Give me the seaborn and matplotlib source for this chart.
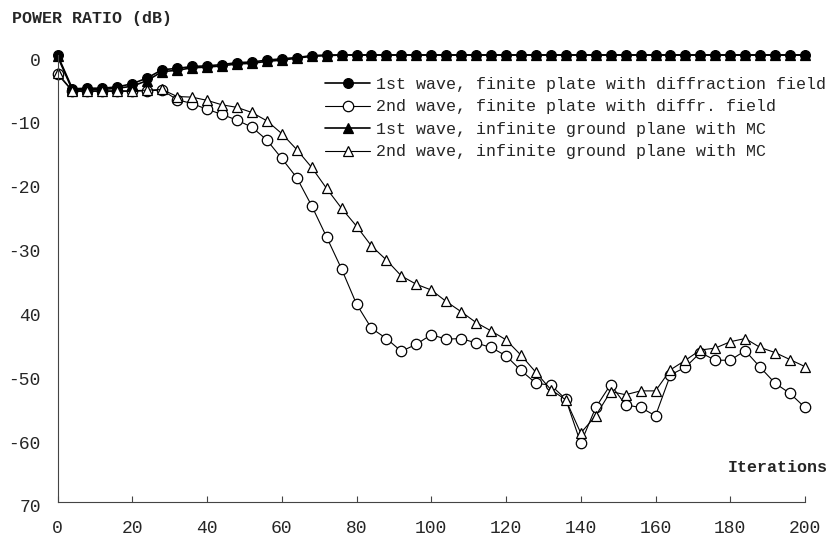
import matplotlib
matplotlib.use("Agg")
import matplotlib.pyplot as plt
import matplotlib.transforms as mtransforms
import seaborn as sns

# Iteration index (every 4th iteration)
iterations = list(range(0, 201, 4))

# Power ratio in dB for each wave / configuration
first_finite = [0.0, -5.3, -5.2, -5.2, -5.0, -4.5, -3.6, -2.3, -2.1, -1.8,
                -1.7, -1.5, -1.2, -1.1, -0.8, -0.6, -0.4, -0.1, 0.0,
                0.0, 0.0, 0.0, 0.0, 0.0, 0.0, 0.0, 0.0, 0.0, 0.0, 0.0,
                0.0, 0.0, 0.0, 0.0, 0.0, 0.0, 0.0, 0.0, 0.0, 0.0, 0.0,
                0.0, 0.0, 0.0, 0.0, 0.0, 0.0, 0.0, 0.0, 0.0, 0.0]

second_finite = [-3.0, -5.7, -5.7, -5.7, -5.7, -5.7, -5.6, -5.5, -7.0, -7.6,
                 -8.5, -9.3, -10.2, -11.3, -13.3, -16.2, -19.2, -23.6, -28.5, -33.5,
                 -39.0, -42.8, -44.4, -46.4, -45.3, -43.8, -44.5, -44.4, -45.1, -45.8,
                 -47.1, -49.4, -51.4, -51.7, -53.9, -60.8, -55.2, -51.6, -54.8, -55.2,
                 -56.5, -50.1, -48.9, -46.6, -47.8, -47.8, -46.3, -48.9, -51.4, -53.0,
                 -55.2]

first_infinite = [-0.2, -5.5, -5.4, -5.4, -5.2, -4.9, -4.0, -2.6, -2.4, -2.0,
                  -1.9, -1.7, -1.4, -1.3, -1.0, -0.8, -0.5, -0.2, -0.1,
                  0.0, 0.0, 0.0, 0.0, 0.0, 0.0, 0.0, 0.0, 0.0, 0.0, 0.0,
                  0.0, 0.0, 0.0, 0.0, 0.0, 0.0, 0.0, 0.0, 0.0, 0.0, 0.0,
                  0.0, 0.0, 0.0, 0.0, 0.0, 0.0, 0.0, 0.0, 0.0, 0.0]

second_infinite = [-2.8, -5.6, -5.6, -5.6, -5.6, -5.6, -5.5, -5.4, -6.5, -6.6,
                   -7.1, -7.8, -8.2, -9.0, -10.3, -12.3, -14.8, -17.6, -20.9, -24.0,
                   -26.8, -29.9, -32.1, -34.6, -35.9, -36.8, -38.6, -40.2, -41.9, -43.2,
                   -44.6, -47.0, -49.7, -52.4, -54.0, -59.2, -56.5, -52.7, -53.2, -52.6,
                   -52.6, -49.3, -47.8, -46.2, -45.9, -44.9, -44.4, -45.8, -46.6, -47.7,
                   -48.8]

series_labels = [
    "1st wave, finite plate with diffraction field",
    "2nd wave, finite plate with diffr. field",
    "1st wave, infinite ground plane with MC",
    "2nd wave, infinite ground plane with MC",
]

x_ticks = [0, 20, 40, 60, 80, 100, 120, 140, 160, 180, 200]
y_ticks = [0, -10, -20, -30, -40, -50, -60, -70]
y_tick_labels = ["0", "-10", "-20", "-30", "40", "-50", "-60", "70"]

sns.set_theme(style="white")
plt.rcParams["font.family"] = ["Liberation Mono", "DejaVu Sans"]

W, H = 830, 546
fig = plt.figure(figsize=(W / 100, H / 100), dpi=100)
ax = fig.add_axes([57.5 / W, 1 - 502 / H, (805 - 57.5) / W, (502 - 55) / H])

styles = {
    0: dict(marker="o", markerfacecolor="black", markersize=7, linewidth=1.2),
    1: dict(marker="o", markerfacecolor="white", markersize=7.5, linewidth=0.8),
    2: dict(marker="^", markerfacecolor="black", markersize=7, linewidth=1.2),
    3: dict(marker="^", markerfacecolor="white", markersize=7.5, linewidth=0.8),
}
values = [first_finite, second_finite, first_infinite, second_infinite]

handles = {}
for idx in [1, 2, 0, 3]:
    sns.lineplot(x=iterations, y=values[idx], ax=ax, color="black",
                 markeredgecolor="black", markeredgewidth=0.9,
                 clip_on=False, label=series_labels[idx], **styles[idx])
    handles[idx] = ax.get_lines()[-1]

ax.set_xlim(0, 200)
ax.set_ylim(-70, 0)
ax.set_xticks(x_ticks)
ax.set_xticklabels([str(t) for t in x_ticks])
ax.set_yticks(y_ticks)
ax.set_yticklabels(y_tick_labels)

for side in ["top", "right"]:
    ax.spines[side].set_visible(False)
for side in ["left", "bottom"]:
    ax.spines[side].set_color("#444444")
    ax.spines[side].set_linewidth(0.8)

ax.tick_params(axis="x", direction="in", length=4, width=0.8, color="#444444",
               pad=13, labelsize=13, bottom=True)
ax.tick_params(axis="y", length=0, pad=12, labelsize=13)

shift = mtransforms.ScaledTranslation(0, -0.04, fig.dpi_scale_trans)
for lab in ax.get_yticklabels():
    lab.set_transform(lab.get_transform() + shift)

ax.legend(handles=[handles[i] for i in range(4)], labels=series_labels,
          loc="upper left", bbox_to_anchor=(325 / W, 1 - 77 / H),
          bbox_transform=fig.transFigure, frameon=False, fontsize=12,
          handlelength=2.7, handletextpad=0.35, labelspacing=0.45,
          borderpad=0, borderaxespad=0)

fig.text(12 / W, 1 - 18 / H, "POWER RATIO (dB)", ha="left", va="center",
         fontsize=12, fontweight="bold")
fig.text(828 / W, 1 - 467 / H, "Iterations", ha="right", va="center",
         fontsize=12, fontweight="bold")

fig.savefig("out.png", dpi=100)
